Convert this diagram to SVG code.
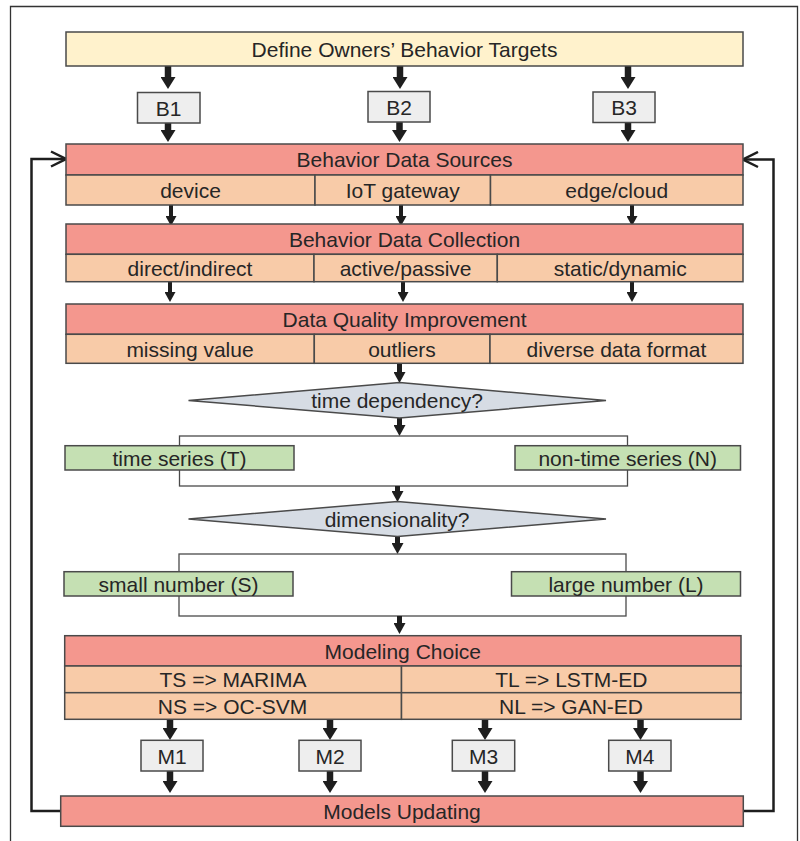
<svg xmlns="http://www.w3.org/2000/svg" width="800" height="841" viewBox="0 0 800 841">
<defs>
<style>
text{font-family:"Liberation Sans",Arial,sans-serif;font-size:21px;fill:#262626;text-anchor:middle}
.box{stroke:#4a4a4a;stroke-width:1.5}
.yel{fill:#fff2cc}
.red{fill:#f4978e}
.pch{fill:#f8cba8}
.gry{fill:#eeeeee}
.grn{fill:#c5e0b3}
.dia{fill:#d6dce4}
.ab{stroke:#1e1e1e;stroke-width:6.5;fill:none}
.am{stroke:#1e1e1e;stroke-width:5;fill:none}
.as{stroke:#1e1e1e;stroke-width:4;fill:none}
.br{stroke:#4a4a4a;stroke-width:1.3;fill:none}
.fb{stroke:#1e1e1e;stroke-width:2.5;fill:none}
</style>
<marker id="hb" viewBox="0 0 12 15" refX="0" refY="7.5" markerWidth="12" markerHeight="15" markerUnits="userSpaceOnUse" orient="auto"><path d="M0,0 L12,7.5 L0,15 Z" fill="#1e1e1e"/></marker>
<marker id="hm" viewBox="0 0 11 12" refX="0" refY="6" markerWidth="11" markerHeight="12" markerUnits="userSpaceOnUse" orient="auto"><path d="M0,0 L11,6 L0,12 Z" fill="#1e1e1e"/></marker>
<marker id="hs" viewBox="0 0 10 11" refX="0" refY="5.5" markerWidth="10" markerHeight="11" markerUnits="userSpaceOnUse" orient="auto"><path d="M0,0 L10,5.5 L0,11 Z" fill="#1e1e1e"/></marker>
<marker id="hc" viewBox="0 0 18 18" refX="16" refY="9" markerWidth="18" markerHeight="18" markerUnits="userSpaceOnUse" orient="auto"><path d="M1,1.5 L16,9 L1,16.5" fill="none" stroke="#1e1e1e" stroke-width="2.5"/></marker>
</defs>
<rect width="800" height="841" fill="#ffffff"/>
<path d="M10.5,845 V6.5 H797.5 V845" fill="none" stroke="#333" stroke-width="1.3"/>

<g id="connectors">
<!-- top to B boxes -->
<path class="ab" d="M168,66 V77" marker-end="url(#hb)"/>
<path class="ab" d="M400,66 V77" marker-end="url(#hb)"/>
<path class="ab" d="M628,66 V77" marker-end="url(#hb)"/>
<!-- B boxes to sources -->
<path class="ab" d="M168,123 V130" marker-end="url(#hb)"/>
<path class="ab" d="M399.5,122 V130" marker-end="url(#hb)"/>
<path class="ab" d="M628,122.5 V130" marker-end="url(#hb)"/>
<!-- sources to collection -->
<path class="as" d="M171,205 V216" marker-end="url(#hs)"/>
<path class="as" d="M401,205 V216" marker-end="url(#hs)"/>
<path class="as" d="M632,205 V216" marker-end="url(#hs)"/>
<!-- collection to quality -->
<path class="as" d="M170,281.7 V292" marker-end="url(#hs)"/>
<path class="as" d="M403,281.7 V292" marker-end="url(#hs)"/>
<path class="as" d="M632,281.7 V292" marker-end="url(#hs)"/>
<!-- quality to diamond 1 -->
<path class="am" d="M399.5,363.3 V372" marker-end="url(#hm)"/>
<!-- diamond 1 to branch -->
<path class="am" d="M399.5,417 V425" marker-end="url(#hm)"/>
<rect class="br" x="179.5" y="436" width="448" height="50"/>
<!-- branch to diamond 2 -->
<path class="am" d="M397.5,486 V491" marker-end="url(#hm)"/>
<!-- diamond 2 to branch -->
<path class="am" d="M397.5,536 V543" marker-end="url(#hm)"/>
<rect class="br" x="179" y="554" width="447" height="62"/>
<!-- branch to modeling -->
<path class="am" d="M399.5,616 V623" marker-end="url(#hm)"/>
<!-- modeling to M boxes -->
<path class="ab" d="M170,719.3 V728" marker-end="url(#hb)"/>
<path class="ab" d="M330,719.3 V728" marker-end="url(#hb)"/>
<path class="ab" d="M485,719.3 V728" marker-end="url(#hb)"/>
<path class="ab" d="M640.5,719.3 V728" marker-end="url(#hb)"/>
<!-- M boxes to updating -->
<path class="ab" d="M170,771 V781" marker-end="url(#hb)"/>
<path class="ab" d="M330,771 V781" marker-end="url(#hb)"/>
<path class="ab" d="M485,771 V781" marker-end="url(#hb)"/>
<path class="ab" d="M640.5,771 V781" marker-end="url(#hb)"/>
<!-- feedback loops -->
<path class="fb" d="M61,811 H31.5 V159 H66" marker-end="url(#hc)"/>
<path class="fb" d="M743,811 H773.5 V159.5 H743" marker-end="url(#hc)"/>
</g>

<g id="targets">
<rect class="box yel" x="66" y="32" width="677" height="34"/>
<text x="404.5" y="57">Define Owners’ Behavior Targets</text>
</g>
<g id="B1"><rect class="box gry" x="137.5" y="92.5" width="62.5" height="30.5"/><text x="168.7" y="115.5">B1</text></g>
<g id="B2"><rect class="box gry" x="368" y="91.5" width="62" height="30.5"/><text x="399" y="114.5">B2</text></g>
<g id="B3"><rect class="box gry" x="593" y="92" width="62" height="30.5"/><text x="624" y="115">B3</text></g>

<g id="sources">
<rect class="box red" x="66" y="144" width="677" height="31"/>
<text x="404.5" y="166.7">Behavior Data Sources</text>
<rect class="box pch" x="66" y="175" width="249" height="30"/>
<rect class="box pch" x="315" y="175" width="175.5" height="30"/>
<rect class="box pch" x="490.5" y="175" width="252.5" height="30"/>
<text x="190.5" y="197.7">device</text>
<text x="402.7" y="197.7">IoT gateway</text>
<text x="616.7" y="197.7">edge/cloud</text>
</g>

<g id="collection">
<rect class="box red" x="66" y="224" width="677" height="30.3"/>
<text x="404.5" y="246.5">Behavior Data Collection</text>
<rect class="box pch" x="66" y="254.3" width="248" height="27.4"/>
<rect class="box pch" x="314" y="254.3" width="183.3" height="27.4"/>
<rect class="box pch" x="497.3" y="254.3" width="245.7" height="27.4"/>
<text x="190" y="275.7">direct/indirect</text>
<text x="405.6" y="275.7">active/passive</text>
<text x="620.2" y="275.7">static/dynamic</text>
</g>

<g id="quality">
<rect class="box red" x="66" y="304" width="677" height="30.3"/>
<text x="404.5" y="326.7">Data Quality Improvement</text>
<rect class="box pch" x="66" y="334.3" width="248.3" height="29"/>
<rect class="box pch" x="314.3" y="334.3" width="175.7" height="29"/>
<rect class="box pch" x="490" y="334.3" width="253" height="29"/>
<text x="190" y="356.5">missing value</text>
<text x="402" y="356.5">outliers</text>
<text x="616.5" y="356.5">diverse data format</text>
</g>

<g id="timeDependency">
<polygon class="box dia" points="188.5,400.5 399.5,382.5 606,400.5 399.5,418"/>
<text x="397" y="408.2">time dependency?</text>
</g>
<g id="timeSeries"><rect class="box grn" x="65" y="445.7" width="229" height="24.3"/><text x="179.5" y="465.7">time series (T)</text></g>
<g id="nonTimeSeries"><rect class="box grn" x="515" y="445.7" width="225.5" height="24.3"/><text x="627.7" y="465.7">non-time series (N)</text></g>

<g id="dimensionality">
<polygon class="box dia" points="188.5,519 397.5,501.5 606,519 397.5,536.5"/>
<text x="397" y="526.7">dimensionality?</text>
</g>
<g id="smallNumber"><rect class="box grn" x="64" y="571.7" width="229" height="24.3"/><text x="178.5" y="591.7">small number (S)</text></g>
<g id="largeNumber"><rect class="box grn" x="511.5" y="571.7" width="229" height="24.3"/><text x="626" y="591.7">large number (L)</text></g>

<g id="modeling">
<rect class="box red" x="64.7" y="635.7" width="676.3" height="30.3"/>
<text x="402.8" y="658.5">Modeling Choice</text>
<rect class="box pch" x="64.7" y="666" width="336.8" height="26.7"/>
<rect class="box pch" x="401.5" y="666" width="339.5" height="26.7"/>
<rect class="box pch" x="64.7" y="692.7" width="336.8" height="26.6"/>
<rect class="box pch" x="401.5" y="692.7" width="339.5" height="26.6"/>
<text x="233" y="687.2">TS =&gt; MARIMA</text>
<text x="571.3" y="687.2">TL =&gt; LSTM-ED</text>
<text x="232.5" y="713.7">NS =&gt; OC-SVM</text>
<text x="571" y="713.7">NL =&gt; GAN-ED</text>
</g>

<g id="M1"><rect class="box gry" x="141" y="740.3" width="62" height="30.7"/><text x="172" y="763.5">M1</text></g>
<g id="M2"><rect class="box gry" x="299" y="740.3" width="62" height="30.7"/><text x="330" y="763.5">M2</text></g>
<g id="M3"><rect class="box gry" x="452.3" y="740.3" width="62.4" height="30.7"/><text x="483.5" y="763.5">M3</text></g>
<g id="M4"><rect class="box gry" x="608.7" y="740.3" width="62.3" height="30.7"/><text x="639.8" y="763.5">M4</text></g>

<g id="updating">
<rect class="box red" x="60.7" y="796" width="682.6" height="30.3"/>
<text x="402" y="819">Models Updating</text>
</g>
</svg>
